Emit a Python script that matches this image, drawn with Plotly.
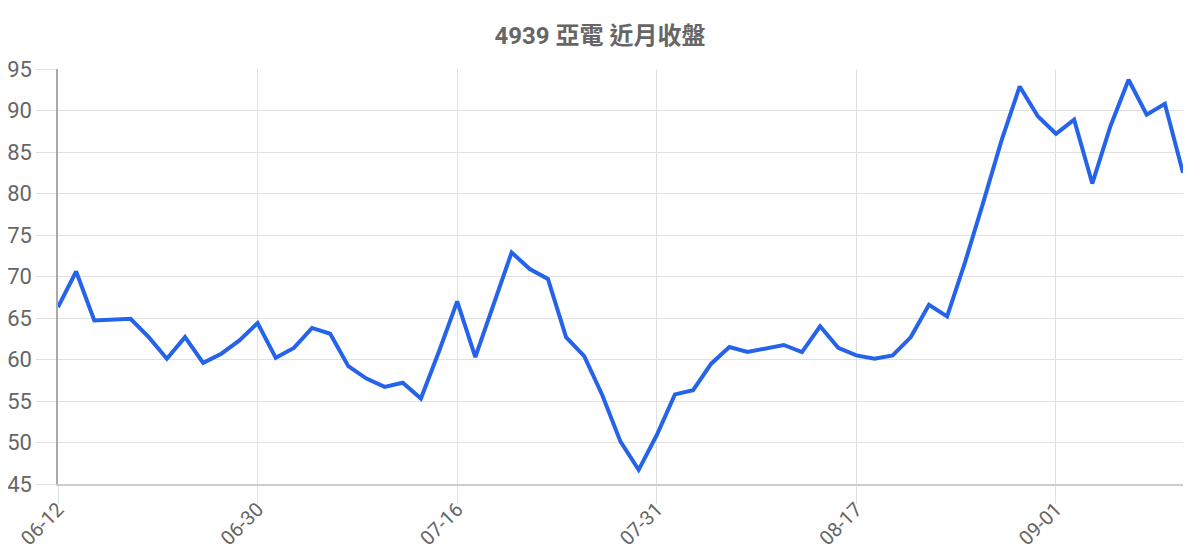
import plotly.graph_objects as go

# closing prices, one per trading day
dates = [
    '06-12', '06-13', '06-14', '06-15', '06-16', '06-19', '06-20', '06-21', '06-26', '06-27', '06-29',
    '06-30', '07-03', '07-04', '07-05', '07-06', '07-07', '07-10', '07-11', '07-12', '07-13', '07-14',
    '07-16', '07-17', '07-18', '07-19', '07-20', '07-21', '07-24', '07-25', '07-26', '07-27', '07-28',
    '07-31', '08-01', '08-02', '08-03', '08-04', '08-07', '08-08', '08-09', '08-10', '08-11', '08-14',
    '08-17', '08-18', '08-21', '08-22', '08-23', '08-24', '08-25', '08-28', '08-29', '08-30', '08-31',
    '09-01', '09-04', '09-05', '09-06', '09-07', '09-08', '09-11', '09-12',
]
close = [
    66.3, 70.6, 64.7, 64.8, 64.9, 62.7, 60.1, 62.7, 59.6, 60.7, 62.3,
    64.4, 60.2, 61.4, 63.8, 63.1, 59.2, 57.7, 56.7, 57.2, 55.3, 61.0,
    67.0, 60.3, 66.5, 72.9, 70.9, 69.7, 62.7, 60.4, 55.7, 50.1, 46.7,
    50.9, 55.8, 56.3, 59.5, 61.5, 60.9, 61.3, 61.75, 60.9, 64.0, 61.4,
    60.5, 60.1, 60.5, 62.7, 66.6, 65.2, 71.8, 79.0, 86.4, 92.9, 89.3,
    87.2, 88.9, 81.2, 88.1, 93.7, 89.5, 90.8, 82.5,
]
tick_dates = ['06-12', '06-30', '07-16', '07-31', '08-17', '09-01']

grid = '#e0e0e0'
font = 'Roboto, Noto Sans CJK TC, sans-serif'

fig = go.Figure()
fig.add_trace(go.Scatter(x=dates, y=close, mode='lines',
                         line=dict(color='#2563eb', width=4), hoverinfo='x+y'))

# page body has an 8px margin, so the figure is sized to fit inside it
fig.update_layout(
    width=1184, height=544,
    margin=dict(l=50, r=9, t=61, b=68, autoexpand=False),
    paper_bgcolor='white', plot_bgcolor='white',
    showlegend=False,
    font=dict(family=font, color='#666', size=20),
    title=dict(text='<b>4939 亞電 近月收盤</b>', x=0.5, xanchor='center', y=0.95, yanchor='middle',
               font=dict(family=font, size=24, color='#666')),
)
fig.update_xaxes(type='category', range=[0, len(dates) - 1], tickvals=tick_dates, tickangle=-45,
                 automargin=False, ticklabelstandoff=-14,
                 showgrid=True, gridcolor=grid, gridwidth=1.2,
                 ticks='outside', ticklen=18, tickcolor=grid, tickwidth=1.2,
                 showline=True, linecolor='#cccccc', linewidth=1.5, zeroline=False,
                 tickfont=dict(size=20, color='#666'))
fig.update_yaxes(range=[45, 95], dtick=5, automargin=False,
                 showgrid=True, gridcolor=grid, gridwidth=1.2,
                 ticks='outside', ticklen=20, tickcolor=grid, tickwidth=1.2,
                 showline=True, linecolor='#aaaaaa', linewidth=1.5, zeroline=False,
                 tickfont=dict(size=22, color='#666'))

fig.write_html('out.html')
